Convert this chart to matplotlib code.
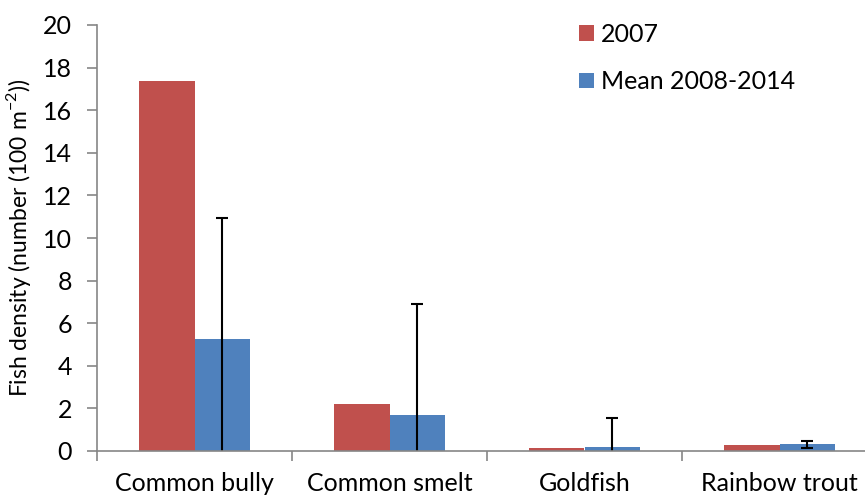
import numpy as np
import matplotlib
matplotlib.use("Agg")
import matplotlib.pyplot as plt

# Datos
especies = ["Common bully", "Common smelt", "Goldfish", "Rainbow trout"]
dens_2007 = [17.38, 2.2, 0.15, 0.28]
dens_media = [5.24, 1.69, 0.2, 0.31]
error_media = [5.72, 5.2, 1.35, 0.17]
etiquetas_y = [0, 2, 4, 6, 8, 10, 12, 14, 16, 18, 20]

rojo = "#C0504D"
azul = "#4F81BD"
gris = "#868686"

plt.rcParams["font.family"] = ["Lato", "DejaVu Sans"]
plt.rcParams["mathtext.fontset"] = "custom"
plt.rcParams["mathtext.rm"] = "Lato"

fig = plt.figure(figsize=(8.65, 4.97), dpi=100)
W, H = 865, 497
ax = fig.add_axes([97 / W, (H - 451) / H, (877 - 97) / W, (451 - 25) / H])

x = np.arange(len(especies))
ancho = 0.285
ax.bar(x - ancho / 2, dens_2007, ancho, color=rojo, label="2007")
ax.bar(x + ancho / 2, dens_media, ancho, color=azul, label="Mean 2008-2014",
       yerr=error_media, error_kw=dict(ecolor="black", elinewidth=1.5,
                                       capsize=4.5, capthick=1.5))

ax.set_xlim(-0.5, len(especies) - 0.5)
ax.set_ylim(0, 20)
ax.set_yticks(etiquetas_y)

# Marcas del eje x entre categorías, etiquetas en el centro
ax.set_xticks(np.arange(len(especies) + 1) - 0.5)
ax.set_xticklabels([])
ax.set_xticks(x, minor=True)
ax.set_xticklabels(especies, minor=True)
ax.tick_params(axis="x", which="major", length=7, color=gris, width=1.2)
ax.tick_params(axis="x", which="minor", length=0, pad=15, labelsize=18)
ax.tick_params(axis="y", length=7, color=gris, width=1.2, pad=11, labelsize=18)

for lado in ["top", "right"]:
    ax.spines[lado].set_visible(False)
ax.spines["left"].set_color(gris)
ax.spines["bottom"].set_color(gris)
ax.spines["left"].set_linewidth(1.2)
ax.spines["bottom"].set_linewidth(1.2)

ax.set_ylabel("Fish density (number (100 m$^{\\mathregular{-2}}$))", fontsize=16.5,
              labelpad=7)

ax.legend(loc="upper left", bbox_to_anchor=((556 - 97) / 780, 1.058), frameon=False,
          fontsize=18, handlelength=0.6, handleheight=0.6, handletextpad=0.3,
          labelspacing=0.98)

fig.savefig("out.png", dpi=100)
